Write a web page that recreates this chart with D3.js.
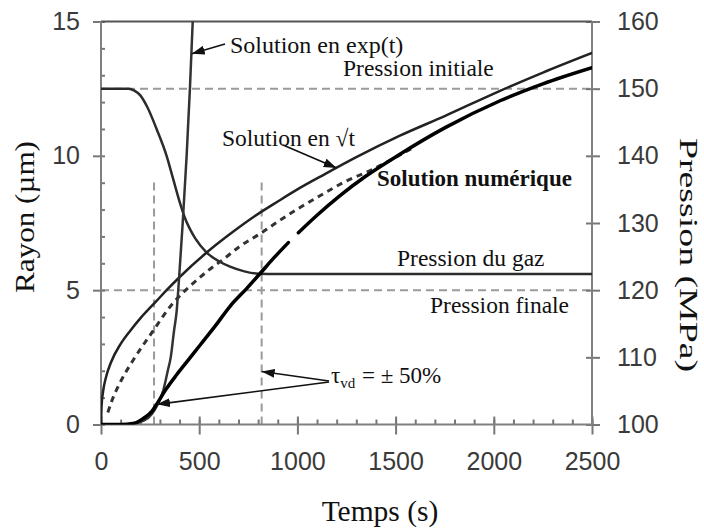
<!DOCTYPE html>
<html>
<head>
<meta charset="utf-8">
<script src="https://cdn.jsdelivr.net/npm/d3@7"></script>
<style>
  body { margin: 0; background: #fff; }
</style>
</head>
<body>
<div id="chart"></div>
<script>
// ticks
const timeTicks = [0, 500, 1000, 1500, 2000, 2500];
const radiusTicks = [0, 5, 10, 15];
const pressureTicks = [100, 110, 120, 130, 140, 150, 160];

// Solution en exp(t)  (temps s, rayon µm)
const expTime   = [0, 150, 220, 260, 285, 318, 340, 355, 372, 385, 398, 416, 436, 453, 467];
const expRadius = [0, 0.02, 0.15, 0.4, 0.7, 1.29, 2.0, 2.5, 3.5, 4.2, 5.5, 7.5, 10.0, 12.55, 15];

// Solution en racine(t)
const sqrtTime   = [0, 3, 10, 25, 50, 100, 150, 200, 283, 334, 402, 538, 650, 784, 900, 1000, 1140, 1300, 1522, 1750, 2032, 2250, 2500];
const sqrtRadius = [0, 0.7, 1.2, 1.75, 2.3, 3.0, 3.5, 3.95, 4.6, 5.0, 5.5, 6.4, 7.05, 7.76, 8.3, 8.75, 9.32, 9.95, 10.75, 11.48, 12.42, 13.1, 13.83];

// courbe pointillée (tau_vd)
const dotTime   = [35, 54, 100, 165, 258, 368, 453, 540, 623, 710, 810, 900, 996, 1100, 1251, 1370, 1522, 1600];
const dotRadius = [0.45, 0.86, 1.6, 2.41, 3.41, 4.53, 5.15, 5.7, 6.15, 6.65, 7.1, 7.55, 8.0, 8.45, 9.07, 9.45, 10.03, 10.35];

// Solution numérique (null = coupure du trait)
const numTime   = [0, 100, 170, 220, 260, 283, 330, 385, 450, 504, 580, 657, 740, 810, 880, 954, 980, 1005, 1100, 1217, 1344, 1522, 1750, 2032, 2250, 2500];
const numRadius = [0, 0, 0.05, 0.25, 0.5, 0.75, 1.3, 1.85, 2.45, 2.95, 3.65, 4.4, 5.05, 5.62, 6.2, 6.77, null, 7.14, 7.79, 8.52, 9.22, 10.06, 11.04, 12.05, 12.68, 13.28];

// Pression du gaz (MPa)
const gasTime     = [0, 140, 170, 200, 235, 283, 334, 368, 402, 428, 480, 538, 600, 657, 730, 800, 900, 2500];
const gasPressure = [150, 150, 149.7, 149, 147.3, 144, 140, 136.5, 133, 130.7, 127.7, 125.6, 124.3, 123.5, 122.8, 122.45, 122.4, 122.4];

// lignes de référence
const refPressure = [150, 120];       // pression initiale / finale
const tauTime = [270, 818];            // tau_vd = +/- 50%
const tauTop = 9.1;

const width = 704, height = 531;

const x = d3.scaleLinear().domain([0, 2500]).range([101, 592]);
const y = d3.scaleLinear().domain([0, 15]).range([424.5, 21.5]);
const yP = d3.scaleLinear().domain([100, 160]).range([424.5, 21.5]);

const svg = d3.select("#chart").append("svg")
    .attr("width", width)
    .attr("height", height)
    .style("font-family", "'Liberation Serif', 'Times New Roman', serif");

const defs = svg.append("defs");
defs.append("clipPath").attr("id", "plot")
    .append("rect").attr("x", 101).attr("y", 21.5).attr("width", 491).attr("height", 403);
defs.append("marker")
    .attr("id", "arrow")
    .attr("markerUnits", "userSpaceOnUse")
    .attr("markerWidth", 13).attr("markerHeight", 9)
    .attr("refX", 13).attr("refY", 4.5)
    .attr("orient", "auto")
    .append("path").attr("d", "M0,0L13,4.5L0,9Z").attr("fill", "#111");

// lignes pointillées grises
svg.selectAll(".href").data(refPressure).enter().append("line")
    .attr("x1", x(0)).attr("x2", x(2500))
    .attr("y1", d => yP(d)).attr("y2", d => yP(d))
    .attr("stroke", "#9a9a9a").attr("stroke-width", 2)
    .attr("stroke-dasharray", "8,5");

svg.selectAll(".vref").data(tauTime).enter().append("line")
    .attr("x1", d => x(d)).attr("x2", d => x(d))
    .attr("y1", y(0)).attr("y2", y(tauTop))
    .attr("stroke", "#9a9a9a").attr("stroke-width", 2)
    .attr("stroke-dasharray", "8,5");

// axes
const tickFont = "'Liberation Sans', Arial, sans-serif";
function styleAxis(g, labels) {
    g.select(".domain").remove();
    g.selectAll(".tick line").attr("stroke", "#777").attr("stroke-width", 2);
    g.selectAll("text")
        .style("font-family", tickFont)
        .style("font-size", labels ? "25px" : "0px")
        .attr("fill", "#3a3a3a");
}

// gauche
svg.append("g").attr("transform", "translate(101,0)")
    .call(d3.axisLeft(y).tickValues(radiusTicks).tickSize(8).tickPadding(13).tickFormat(d3.format("d")))
    .call(g => styleAxis(g, true));
svg.append("g").attr("transform", "translate(101,0)")
    .call(d3.axisRight(y).tickValues(d3.range(0, 16, 1)).tickSize(4).tickFormat(""))
    .call(g => styleAxis(g, false));

// bas
svg.append("g").attr("transform", "translate(0,424.5)")
    .call(d3.axisBottom(x).tickValues(timeTicks).tickSize(10).tickPadding(18).tickFormat(d3.format("d")))
    .call(g => styleAxis(g, true));
svg.append("g").attr("transform", "translate(0,424.5)")
    .call(d3.axisTop(x).tickValues(d3.range(0, 2501, 100)).tickSize(5).tickFormat(""))
    .call(g => styleAxis(g, false));
svg.append("g").attr("transform", "translate(0,424.5)")
    .call(d3.axisTop(x).tickValues(timeTicks).tickSize(8).tickFormat(""))
    .call(g => styleAxis(g, false));

// droite
svg.append("g").attr("transform", "translate(592,0)")
    .call(d3.axisRight(yP).tickValues(pressureTicks).tickSize(8).tickPadding(17).tickFormat(d3.format("d")))
    .call(g => styleAxis(g, true));
svg.append("g").attr("transform", "translate(592,0)")
    .call(d3.axisLeft(yP).tickValues(pressureTicks).tickSize(6).tickFormat(""))
    .call(g => styleAxis(g, false));

// cadre
svg.append("line").attr("x1", 101).attr("x2", 592).attr("y1", 21.5).attr("y2", 21.5)
    .attr("stroke", "#555").attr("stroke-width", 2);
svg.append("line").attr("x1", 101).attr("x2", 101).attr("y1", 21.5).attr("y2", 424.5)
    .attr("stroke", "#808080").attr("stroke-width", 2);
svg.append("line").attr("x1", 592).attr("x2", 592).attr("y1", 21.5).attr("y2", 424.5)
    .attr("stroke", "#808080").attr("stroke-width", 2);
svg.append("line").attr("x1", 101).attr("x2", 592).attr("y1", 424.5).attr("y2", 424.5)
    .attr("stroke", "#808080").attr("stroke-width", 2);

// courbes
const plot = svg.append("g").attr("clip-path", "url(#plot)");

function drawCurve(ts, vs, yScale, stroke, sw, dash) {
    const line = d3.line()
        .defined(d => d[1] !== null)
        .x(d => x(d[0]))
        .y(d => yScale(d[1]))
        .curve(d3.curveMonotoneX);
    plot.append("path")
        .datum(ts.map((t, i) => [t, vs[i]]))
        .attr("d", line)
        .attr("fill", "none")
        .attr("stroke", stroke)
        .attr("stroke-width", sw)
        .attr("stroke-linecap", dash ? "butt" : "round")
        .attr("stroke-dasharray", dash || null);
}

drawCurve(gasTime, gasPressure, yP, "#2b2b2b", 2.5);
drawCurve(sqrtTime, sqrtRadius, y, "#222", 2.5);
drawCurve(dotTime, dotRadius, y, "#333", 3, "6,5");
drawCurve(expTime, expRadius, y, "#333", 2.5);
drawCurve(numTime, numRadius, y, "#000", 3.5);

// annotations
function label(tx, ty, s, opts = {}) {
    return svg.append("text")
        .attr("x", tx).attr("y", ty)
        .style("font-size", (opts.size || 23.5) + "px")
        .style("font-weight", opts.bold ? "bold" : "normal")
        .attr("fill", "#111")
        .text(s);
}

label(230, 53, "Solution en exp(t)", { size: 24 });
label(343, 76, "Pression initiale");
label(222, 146, "Solution en \u221At");
label(377, 186, "Solution numérique", { bold: true, size: 23 });
label(397, 266, "Pression du gaz");
label(430, 313, "Pression finale");

const tau = svg.append("text").attr("x", 331).attr("y", 383)
    .style("font-size", "23px").attr("fill", "#111");
tau.append("tspan").text("\u03C4");
tau.append("tspan").attr("dy", 5).style("font-size", "15px").text("vd");
tau.append("tspan").attr("x", 362).attr("dy", -5).text("= \u00B1 50%");

// flèches
function arrow(x1, y1, x2, y2) {
    svg.append("line")
        .attr("x1", x1).attr("y1", y1).attr("x2", x2).attr("y2", y2)
        .attr("stroke", "#111").attr("stroke-width", 1.6)
        .attr("marker-end", "url(#arrow)");
}
arrow(225, 44, x(462), y(13.8));
arrow(283, 145, x(1200), y(9.55));
arrow(329, 381, x(818), y(1.97));
arrow(329, 382, x(285), y(0.75));

// titres des axes
svg.append("text")
    .attr("x", 380).attr("y", 521)
    .attr("text-anchor", "middle")
    .style("font-size", "29.5px")
    .attr("fill", "#111")
    .text("Temps (s)");

svg.append("text")
    .attr("transform", "translate(34,217)rotate(-90)")
    .attr("text-anchor", "middle")
    .style("font-size", "28px")
    .attr("textLength", 152)
    .attr("lengthAdjust", "spacingAndGlyphs")
    .attr("fill", "#111")
    .text("Rayon (\u00B5m)");

svg.append("text")
    .attr("transform", "translate(680,255)rotate(90)")
    .attr("text-anchor", "middle")
    .style("font-size", "26px")
    .attr("textLength", 234)
    .attr("lengthAdjust", "spacingAndGlyphs")
    .attr("fill", "#111")
    .text("Pression (MPa)");
</script>
</body>
</html>
